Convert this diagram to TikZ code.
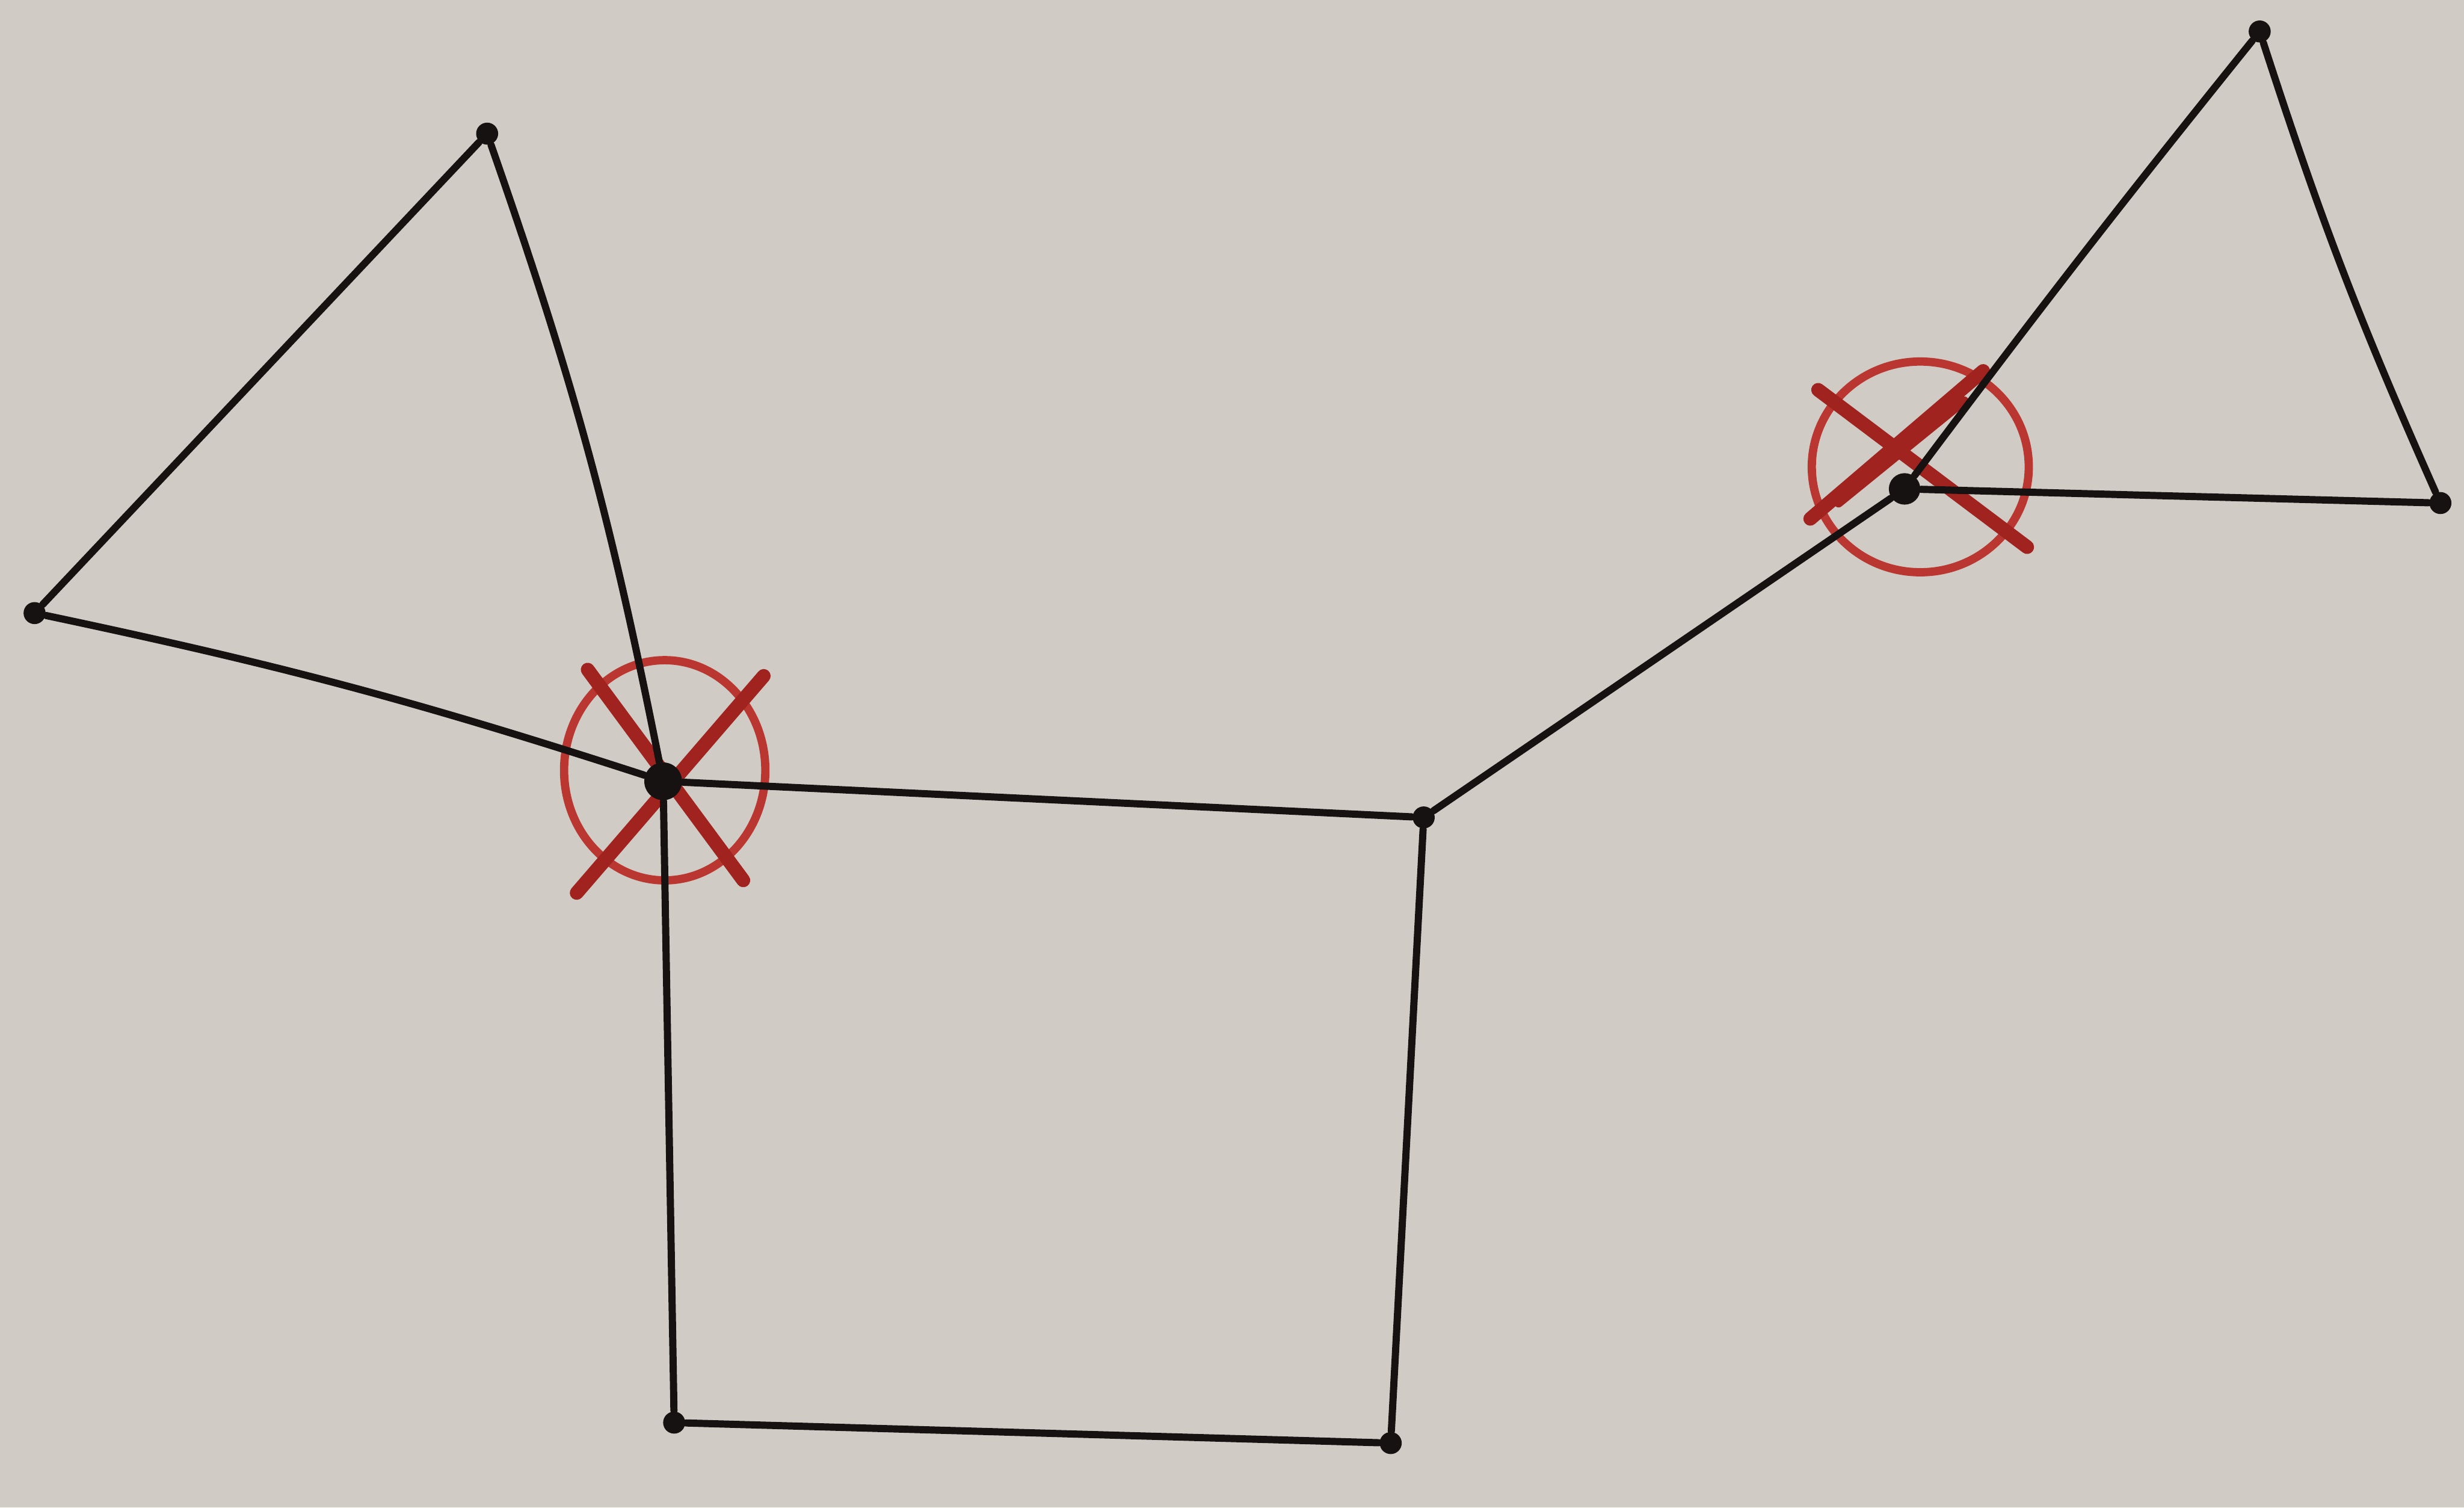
\documentclass[tikz,border=0pt]{standalone}
\definecolor{paper}{RGB}{208,204,197}
\definecolor{ink}{RGB}{22,18,18}
\definecolor{redpen}{RGB}{185,55,48}
\definecolor{redx}{RGB}{160,35,32}
\tikzset{
  dot/.style={circle,fill=ink,inner sep=0pt,minimum size=1.4mm},
  bigdot/.style={circle,fill=ink,inner sep=0pt,minimum size=2.4mm},
  edge/.style={draw=ink,line width=1.3pt,line cap=round},
  ring/.style={draw=redpen,line width=1.5pt},
  cross/.style={draw=redx,line width=2.5pt,line cap=round}
}
\begin{document}
\begin{tikzpicture}[x=0.01cm,y=-0.01cm]
\fill[paper] (0,0) rectangle (1568,959);
\useasboundingbox (0,0) rectangle (1568,959);
% red marks
\draw[ring] (423,490) ellipse [x radius=0.64cm, y radius=0.70cm];
\draw[cross] (374,426) -- (473,560);
\draw[cross] (486,430) -- (367,568);
\draw[ring] (1222,297) ellipse [x radius=0.69cm, y radius=0.67cm];
\draw[cross] (1157,248) -- (1290,348);
\draw[cross] (1262,236) -- (1152,330);
\draw[cross,line width=1.6pt] (1250,255) -- (1170,320);
% nodes
\node[dot] (A) at (310,85) {};
\node[dot] (B) at (22,390) {};
\node[bigdot] (C) at (422,497) {};
\node[dot] (D) at (906,520) {};
\node[dot] (E) at (429,905) {};
\node[dot] (F) at (885,918) {};
\node[bigdot,minimum size=2mm] (G) at (1212,311) {};
\node[dot] (H) at (1438,20) {};
\node[dot] (I) at (1553,320) {};
% edges
\draw[edge] (A) to[bend left=4] (C);
\draw[edge] (A) -- (B);
\draw[edge] (B) to[bend left=3] (C);
\draw[edge] (C) -- (D);
\draw[edge] (C) -- (E);
\draw[edge] (E) -- (F);
\draw[edge] (F) -- (D);
\draw[edge] (D) -- (G);
\draw[edge] (G) to[bend left=1] (H);
\draw[edge] (H) to[bend right=3] (I);
\draw[edge] (I) -- (G);
\end{tikzpicture}
\end{document}
